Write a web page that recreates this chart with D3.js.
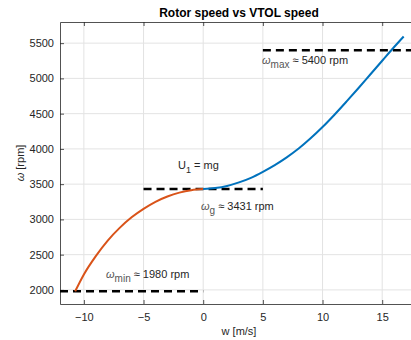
<!DOCTYPE html>
<html>
<head>
<meta charset="utf-8">
<script src="https://cdn.jsdelivr.net/npm/d3@7"></script>
<style>
  body { margin: 0; background: #fff; }
  svg { display: block; font-family: "Liberation Sans", Arial, sans-serif; }
</style>
</head>
<body>
<svg id="chart" width="411" height="340"></svg>
<script>
// descending part (orange) and climbing part (blue), w in m/s, omega in rpm
let descW = [-10.73, -10, -9, -8, -7, -6, -5, -4, -3, -2, -1, 0];
let descOmega = [1980, 2220, 2480, 2700, 2880, 3030, 3150, 3250, 3325, 3380, 3415, 3431];
let climbW = [0, 1, 2, 3, 4, 5, 6, 7, 8, 9, 10, 11, 12, 13, 14, 15, 16, 16.8];
let climbOmega = [3431, 3445, 3475, 3525, 3590, 3675, 3770, 3880, 4005, 4150, 4310, 4485, 4670, 4860, 5055, 5250, 5445, 5595];

let xTicks = [-10, -5, 0, 5, 10, 15];
let yTicks = [2000, 2500, 3000, 3500, 4000, 4500, 5000, 5500];

// reference levels: [from w, to w, omega]
let omegaMin = [-12, 0, 1980];
let omegaHover = [-5, 5, 3431];
let omegaMax = [5, 18, 5400];

let svg = d3.select("#chart"),
    pLeft = 60, pRight = 418, pTop = 22, pBottom = 304;

let x = d3.scaleLinear().domain([-12, 18]).range([pLeft, pRight]),
    y = d3.scaleLinear().domain([1800, 5800]).range([pBottom, pTop]);

// grid
svg.append("g").selectAll("line")
    .data(xTicks)
    .enter().append("line")
    .attr("x1", d => x(d)).attr("x2", d => x(d))
    .attr("y1", pTop).attr("y2", pBottom)
    .attr("stroke", "#e3e3e3").attr("stroke-width", 1);

svg.append("g").selectAll("line")
    .data(yTicks)
    .enter().append("line")
    .attr("x1", pLeft).attr("x2", pRight)
    .attr("y1", d => y(d)).attr("y2", d => y(d))
    .attr("stroke", "#e3e3e3").attr("stroke-width", 1);

// axes
let xAxis = svg.append("g")
    .attr("transform", "translate(0," + pBottom + ")")
    .call(d3.axisBottom(x).tickValues(xTicks).tickSizeInner(-4).tickSizeOuter(0).tickPadding(9));

let xTop = svg.append("g")
    .attr("transform", "translate(0," + pTop + ")")
    .call(d3.axisTop(x).tickValues(xTicks).tickSizeInner(-4).tickSizeOuter(0).tickFormat(""));

let yAxis = svg.append("g")
    .attr("transform", "translate(" + pLeft + ",0)")
    .call(d3.axisLeft(y).tickValues(yTicks).tickFormat(d3.format("d"))
        .tickSizeInner(-4).tickSizeOuter(0).tickPadding(6));

[xAxis, xTop, yAxis].forEach(function(g) {
    g.select(".domain").attr("stroke", "#262626").attr("stroke-width", 0.8);
    g.selectAll(".tick line").attr("stroke", "#262626").attr("stroke-width", 0.8);
    g.selectAll("text").attr("fill", "#262626").attr("font-size", "11px")
        .attr("font-family", "Liberation Sans, Arial, sans-serif");
});

// reference dashed lines
[omegaMin, omegaHover, omegaMax].forEach(function(r) {
    svg.append("line")
        .attr("x1", x(r[0])).attr("x2", x(r[1]))
        .attr("y1", y(r[2])).attr("y2", y(r[2]))
        .attr("stroke", "#000").attr("stroke-width", 2.4)
        .attr("stroke-dasharray", "8,5");
});

// curves
let line = d3.line()
    .x(d => x(d[0]))
    .y(d => y(d[1]))
    .curve(d3.curveMonotoneX);

svg.append("path")
    .datum(d3.zip(descW, descOmega))
    .attr("fill", "none")
    .attr("stroke", "#D95319")
    .attr("stroke-width", 2)
    .attr("d", line);

svg.append("path")
    .datum(d3.zip(climbW, climbOmega))
    .attr("fill", "none")
    .attr("stroke", "#0072BD")
    .attr("stroke-width", 2)
    .attr("d", line);

// annotations
function omegaLabel(px, py, sub, rest) {
    let t = svg.append("text")
        .attr("x", px).attr("y", py)
        .attr("font-size", "11px")
        .attr("fill", "#262626");
    t.append("tspan").attr("font-style", "italic").attr("fill", "#555").text("\u03C9");
    t.append("tspan").attr("dy", 4).attr("font-size", "10px").attr("fill", "#555").text(sub);
    t.append("tspan").attr("dy", -4).text(" \u2248 " + rest);
}

omegaLabel(262, 64, "max", "5400 rpm");
omegaLabel(201, 210, "g", "3431 rpm");
omegaLabel(106, 278, "min", "1980 rpm");

let u = svg.append("text")
    .attr("x", 178).attr("y", 169)
    .attr("font-size", "11px")
    .attr("fill", "#262626");
u.append("tspan").text("U");
u.append("tspan").attr("dy", 4).attr("font-size", "9px").text("1");
u.append("tspan").attr("dy", -4).text(" = mg");

// title and axis labels
svg.append("text")
    .attr("x", (pLeft + pRight) / 2).attr("y", 17)
    .attr("text-anchor", "middle")
    .attr("font-size", "12px")
    .attr("font-weight", "bold")
    .attr("fill", "#000")
    .text("Rotor speed vs VTOL speed");

svg.append("text")
    .attr("x", (pLeft + pRight) / 2).attr("y", 335)
    .attr("text-anchor", "middle")
    .attr("font-size", "11px")
    .attr("fill", "#262626")
    .text("w [m/s]");

let yl = svg.append("text")
    .attr("transform", "translate(24," + ((pTop + pBottom) / 2) + ") rotate(-90)")
    .attr("text-anchor", "middle")
    .attr("font-size", "11px")
    .attr("fill", "#262626");
yl.append("tspan").attr("font-style", "italic").text("\u03C9");
yl.append("tspan").text(" [rpm]");
</script>
</body>
</html>
